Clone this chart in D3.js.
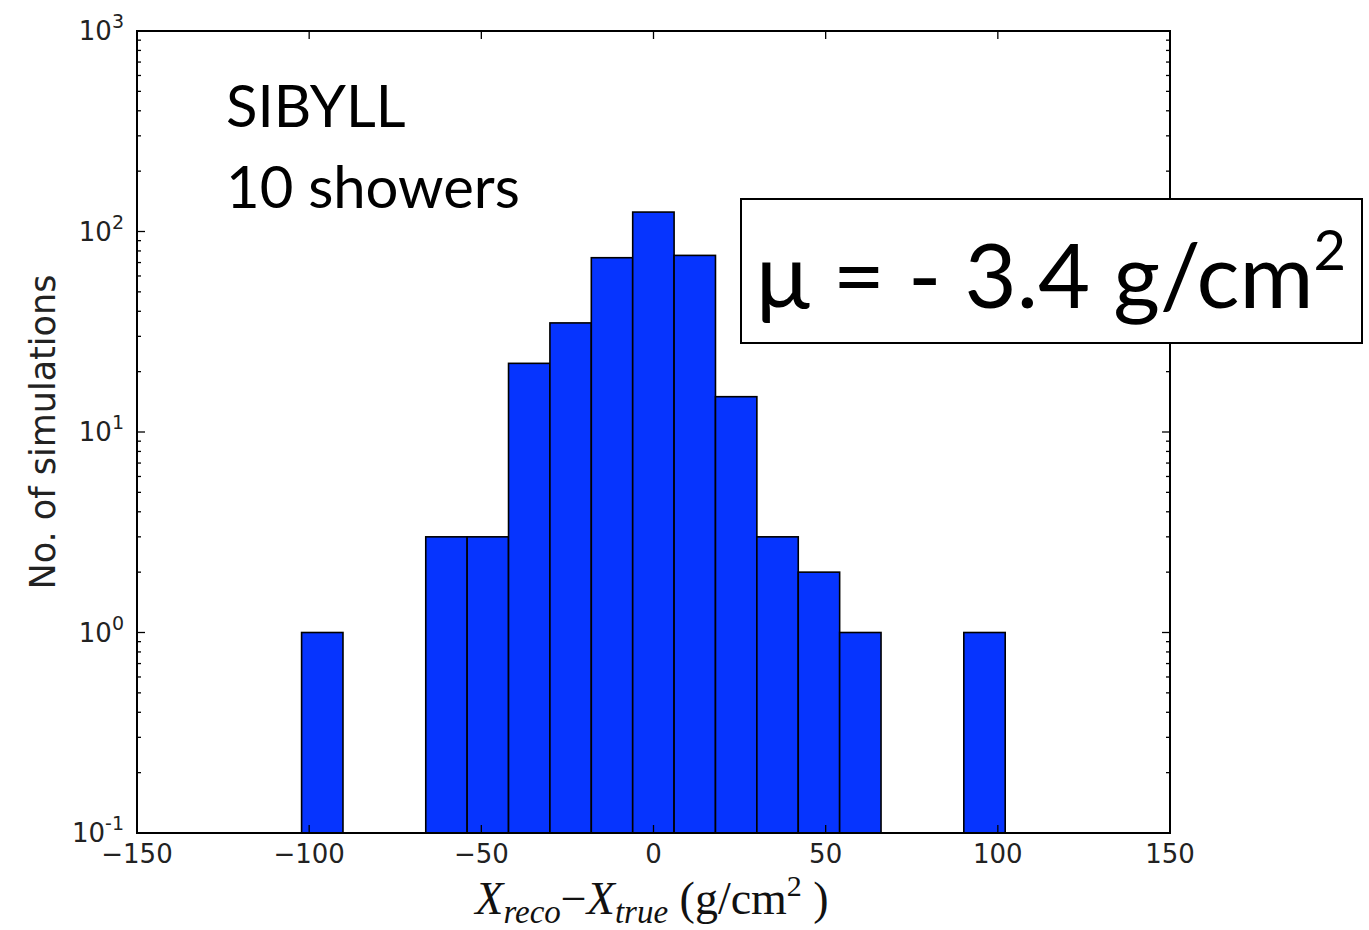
<!DOCTYPE html>
<html>
<head>
<meta charset="utf-8">
<script src="https://cdn.jsdelivr.net/npm/d3@7/dist/d3.min.js"></script>
<style>
  html, body { margin: 0; padding: 0; background: #fff; }
  svg { display: block; }
</style>
</head>
<body>
<svg id="chart" width="1369" height="930"></svg>
<script>
// Histogram of reconstructed minus true Xmax (g/cm^2), log-scaled counts
const binStart = -102.2;
const binWidth = 12.02;
const counts = [1, 0, 0, 3, 3, 22, 35, 74, 125, 76, 15, 3, 2, 1, 0, 0, 1];
const xTicks = [-150, -100, -50, 0, 50, 100, 150];
const yTickExps = [-1, 0, 1, 2, 3];
const annoLines = ["SIBYLL", "10 showers"];
const meanText = "μ = - 3.4 g/cm";

const svg = d3.select("#chart");
const plot = { left: 137, right: 1170, top: 31, bottom: 833 };

const x = d3.scaleLinear().domain([-150, 150]).range([plot.left, plot.right]);
const y = d3.scaleLog().domain([0.1, 1000]).range([plot.bottom, plot.top]);

const bins = counts.map((c, i) => ({ x0: binStart + i * binWidth, x1: binStart + (i + 1) * binWidth, c }));

// bars
svg.append("g").selectAll("rect")
  .data(bins.filter(d => d.c > 0))
  .join("rect")
  .attr("x", d => x(d.x0))
  .attr("y", d => y(d.c))
  .attr("width", d => x(d.x1) - x(d.x0))
  .attr("height", d => y(0.1) - y(d.c))
  .attr("fill", "#0634fe")
  .attr("stroke", "#000")
  .attr("stroke-width", 1.6);

// ticks (inward, all four sides)
const tickG = svg.append("g").attr("stroke", "#000").attr("stroke-width", 1.3);
const majorLen = 8, minorLen = 4;
xTicks.forEach(v => {
  tickG.append("line").attr("x1", x(v)).attr("x2", x(v)).attr("y1", plot.bottom).attr("y2", plot.bottom - majorLen);
  tickG.append("line").attr("x1", x(v)).attr("x2", x(v)).attr("y1", plot.top).attr("y2", plot.top + majorLen);
});
yTickExps.forEach(e => {
  const v = Math.pow(10, e);
  tickG.append("line").attr("x1", plot.left).attr("x2", plot.left + majorLen).attr("y1", y(v)).attr("y2", y(v));
  tickG.append("line").attr("x1", plot.right).attr("x2", plot.right - majorLen).attr("y1", y(v)).attr("y2", y(v));
  if (e < 3) {
    for (let k = 2; k <= 9; k++) {
      const mv = k * v;
      tickG.append("line").attr("x1", plot.left).attr("x2", plot.left + minorLen).attr("y1", y(mv)).attr("y2", y(mv));
      tickG.append("line").attr("x1", plot.right).attr("x2", plot.right - minorLen).attr("y1", y(mv)).attr("y2", y(mv));
    }
  }
});

// frame
svg.append("rect")
  .attr("x", plot.left).attr("y", plot.top)
  .attr("width", plot.right - plot.left).attr("height", plot.bottom - plot.top)
  .attr("fill", "none").attr("stroke", "#000").attr("stroke-width", 2);

// x tick labels
const tickFont = "'DejaVu Sans', sans-serif";
svg.append("g").selectAll("text")
  .data(xTicks)
  .join("text")
  .attr("x", d => x(d))
  .attr("y", plot.bottom + 30)
  .attr("text-anchor", "middle")
  .attr("font-family", tickFont)
  .attr("font-size", 26)
  .attr("fill", "#222")
  .text(d => d < 0 ? "\u2212" + Math.abs(d) : String(d));

// y tick labels (10^n)
const yl = svg.append("g");
yTickExps.forEach(e => {
  const t = yl.append("text")
    .attr("x", plot.left - 13)
    .attr("y", y(Math.pow(10, e)) + 9)
    .attr("text-anchor", "end")
    .attr("font-family", tickFont)
    .attr("font-size", 26)
    .attr("fill", "#222");
  t.append("tspan").text("10");
  t.append("tspan").attr("dy", -12).attr("font-size", 19).text(String(e));
});

// y axis title
svg.append("text")
  .attr("transform", `translate(55,${(plot.top + plot.bottom) / 2}) rotate(-90)`)
  .attr("text-anchor", "middle")
  .attr("font-family", tickFont)
  .attr("font-size", 35)
  .attr("fill", "#222")
  .text("No. of simulations");

// x axis title
const serif = "'Liberation Serif', 'DejaVu Serif', serif";
const xt = svg.append("text")
  .attr("x", 652)
  .attr("y", 914)
  .attr("text-anchor", "middle")
  .attr("font-family", serif)
  .attr("font-size", 46)
  .attr("fill", "#111");
xt.append("tspan").attr("font-style", "italic").text("X");
xt.append("tspan").attr("font-style", "italic").attr("font-size", 33).attr("dy", 9).text("reco");
xt.append("tspan").attr("dy", -9).text("\u2212");
xt.append("tspan").attr("font-style", "italic").text("X");
xt.append("tspan").attr("font-style", "italic").attr("font-size", 33).attr("dy", 9).text("true");
xt.append("tspan").attr("dy", -9).text(" (g/cm");
xt.append("tspan").attr("dy", -18).attr("font-size", 30).text("2");
xt.append("tspan").attr("dy", 18).text(" )");

// annotation text
const annoFont = "Lato, 'Open Sans', sans-serif";
annoLines.forEach((s, i) => {
  svg.append("text")
    .attr("x", 226)
    .attr("y", 127 + i * 81)
    .attr("font-family", annoFont)
    .attr("font-size", 58)
    .attr("fill", "#000")
    .text(s);
});

// mean box
svg.append("rect")
  .attr("x", 741).attr("y", 199)
  .attr("width", 621).attr("height", 144)
  .attr("fill", "#fff").attr("stroke", "#000").attr("stroke-width", 2);
const mt = svg.append("text")
  .attr("x", 756)
  .attr("y", 308)
  .attr("font-family", annoFont)
  .attr("font-size", 90)
  .attr("fill", "#000");
mt.append("tspan").text(meanText);
mt.append("tspan").attr("dy", -38).attr("font-size", 56).text("2");
</script>
</body>
</html>
